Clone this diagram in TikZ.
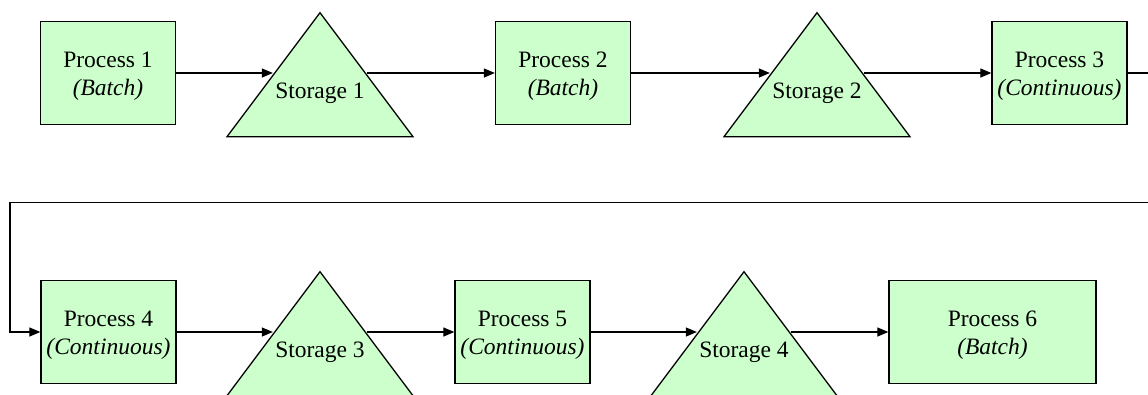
\documentclass[tikz,border=0pt]{standalone}
\usepackage{fontspec}
\setmainfont{Liberation Serif}
\usetikzlibrary{shapes.geometric,arrows.meta}
\definecolor{boxgreen}{HTML}{CCFFCC}
% two-line process caption, set a little below the box centre
\newcommand{\proctext}[2]{\raisebox{-3pt}[\height][\depth]{%
  \begin{tabular}{@{}c@{}}#1\\\textit{#2}\end{tabular}}}
\begin{document}
\begin{tikzpicture}[x=1pt,y=-1pt,
  every node/.style={font=\fontsize{23.5}{28}\selectfont},
  proc/.style={draw, fill=boxgreen, line width=1.3pt, minimum width=135pt,
    minimum height=103pt, inner sep=0pt},
  tank/.style={draw, fill=boxgreen, line width=1.3pt, isosceles triangle,
    isosceles triangle stretches, shape border rotate=90,
    minimum width=186pt, minimum height=124pt, inner sep=0pt, anchor=apex},
  tanklabel/.style={inner sep=0pt},
  flow/.style={line width=1.2pt, -{Triangle[length=11pt,width=9pt]}}]
\clip (0,0) rectangle (1148,394);
% top row
\node[proc] (p1) at (108,73) {\proctext{Process 1}{(Batch)}};
\node[tank] (s1) at (320,11) {};
\node[tanklabel] (t1) at (320,93) {Storage 1};
\node[proc] (p2) at (563,73) {\proctext{Process 2}{(Batch)}};
\node[tank] (s2) at (817,11) {};
\node[tanklabel] (t2) at (817,93) {Storage 2};
\node[proc] (p3) at (1059.5,73) {\proctext{Process 3}{(Continuous)}};
% bottom row
\node[proc] (p4) at (108.5,332) {\proctext{Process 4}{(Continuous)}};
\node[tank] (s3) at (320,270) {};
\node[tanklabel] (t3) at (320,352) {Storage 3};
\node[proc] (p5) at (522.5,332) {\proctext{Process 5}{(Continuous)}};
\node[tank] (s4) at (744,270) {};
\node[tanklabel] (t4) at (744,352) {Storage 4};
\node[proc, minimum width=207pt] (p6) at (992.5,332) {\proctext{Process 6}{(Batch)}};
% return line from the first row to the second
\coordinate (loopR) at (1165,202.5);
\coordinate (loopL) at (10,202.5);
% connectors, kept level with the process boxes
\draw[flow] (p1.east) -- (p1.east -| s1.left side);
\draw[flow] (p2.west -| s1.right side) -- (p2.west);
\draw[flow] (p2.east) -- (p2.east -| s2.left side);
\draw[flow] (p3.west -| s2.right side) -- (p3.west);
\draw[flow] (p3.east) -| (loopR) -- (loopL) |- (p4.west);
\draw[flow] (p4.east) -- (p4.east -| s3.left side);
\draw[flow] (p5.west -| s3.right side) -- (p5.west);
\draw[flow] (p5.east) -- (p5.east -| s4.left side);
\draw[flow] (p6.west -| s4.right side) -- (p6.west);
\end{tikzpicture}
\end{document}
